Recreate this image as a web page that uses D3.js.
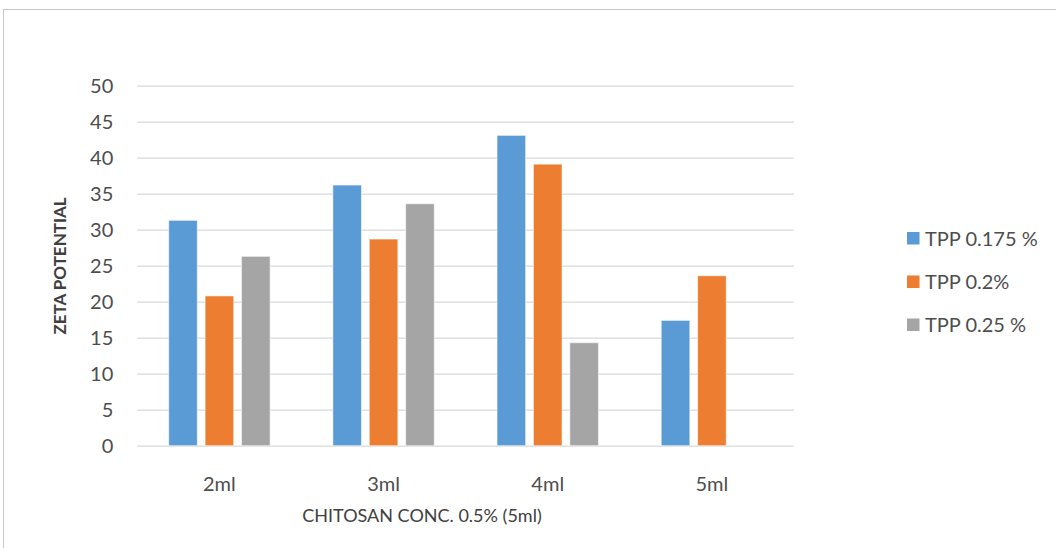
<!DOCTYPE html>
<html>
<head>
<meta charset="utf-8">
<script src="https://cdn.jsdelivr.net/npm/d3@7"></script>
<style>
  html, body { margin: 0; padding: 0; background: #fff; }
  svg { display: block; font-family: Lato, "Open Sans", sans-serif; }
</style>
</head>
<body>
<svg id="chart" width="1056" height="548"></svg>
<script>
// Zeta potential by chitosan volume for three TPP concentrations
const categories = ["2ml", "3ml", "4ml", "5ml"];
const seriesNames = ["TPP 0.175 %", "TPP 0.2%", "TPP 0.25 %"];
const tpp0175 = [31.3, 36.2, 43.1, 17.4];
const tpp02 = [20.8, 28.7, 39.1, 23.6];
const tpp025 = [26.3, 33.6, 14.3, null];
const yTicks = [0, 5, 10, 15, 20, 25, 30, 35, 40, 45, 50];
const colors = ["#5B9BD5", "#ED7D31", "#A5A5A5"];

const seriesValues = [tpp0175, tpp02, tpp025];
const textColor = "#4d4d4d";

const svg = d3.select("#chart");

// outer chart frame
svg.append("rect")
  .attr("x", 3.5).attr("y", 9.5)
  .attr("width", 1060).attr("height", 560)
  .attr("fill", "none").attr("stroke", "#C8C8C8").attr("stroke-width", 1);

const plot = { left: 137.3, right: 794, top: 85.7, bottom: 445.7 };

const x = d3.scaleBand()
  .domain(categories)
  .range([plot.left, plot.right])
  .paddingInner(0).paddingOuter(0);

const y = d3.scaleLinear().domain([0, 50]).range([plot.bottom, plot.top]);

// bars inside each category: width and step
const barW = 28.6;
const barStep = 36.4;
const groupW = barW * 3 + (barStep - barW) * 2;

// gridlines and value labels
const yAxis = d3.axisLeft(y).tickValues(yTicks).tickSize(-(plot.right - plot.left)).tickPadding(24);
const gy = svg.append("g")
  .attr("transform", `translate(${plot.left},0)`)
  .call(yAxis);
gy.select(".domain").remove();
gy.selectAll(".tick line").attr("stroke", "#D9D9D9").attr("stroke-width", 1.3);
gy.selectAll(".tick text")
  .attr("fill", textColor)
  .attr("font-size", "20px")
  .attr("font-family", "Lato, sans-serif");

// bars
seriesValues.forEach((vals, si) => {
  svg.append("g")
    .selectAll("rect")
    .data(categories.map((c, i) => ({ c, v: vals[i] })).filter(d => d.v != null))
    .join("rect")
    .attr("x", d => x(d.c) + (x.bandwidth() - groupW) / 2 + si * barStep)
    .attr("y", d => y(d.v))
    .attr("width", barW)
    .attr("height", d => y(0) - y(d.v))
    .attr("fill", colors[si])
    .attr("stroke", "#ffffff")
    .attr("stroke-opacity", 0.55)
    .attr("stroke-width", 1);
});

// category labels
const xAxis = d3.axisBottom(x).tickSize(0).tickPadding(31);
const gx = svg.append("g")
  .attr("transform", `translate(0,${plot.bottom})`)
  .call(xAxis);
gx.select(".domain").remove();
gx.selectAll(".tick text")
  .attr("fill", textColor)
  .attr("font-size", "20px")
  .attr("font-family", "Lato, sans-serif");

// axis titles
svg.append("text")
  .attr("x", 422).attr("y", 522)
  .attr("text-anchor", "middle")
  .attr("fill", "#404040")
  .attr("font-size", "18px")
  .text("CHITOSAN CONC. 0.5% (5ml)");

svg.append("text")
  .attr("transform", "translate(66,266) rotate(-90)")
  .attr("text-anchor", "middle")
  .attr("fill", "#404040")
  .attr("font-size", "17px")
  .attr("font-weight", "bold")
  .text("ZETA POTENTIAL");

// legend
const legend = svg.append("g");
const legendRows = [238.5, 282, 325];
seriesNames.forEach((name, i) => {
  legend.append("rect")
    .attr("x", 907).attr("y", legendRows[i] - 6.5)
    .attr("width", 12.5).attr("height", 12.5)
    .attr("fill", colors[i]);
  legend.append("text")
    .attr("x", 925).attr("y", legendRows[i])
    .attr("dy", "0.35em")
    .attr("fill", textColor)
    .attr("font-size", "20px")
    .text(name);
});
</script>
</body>
</html>
